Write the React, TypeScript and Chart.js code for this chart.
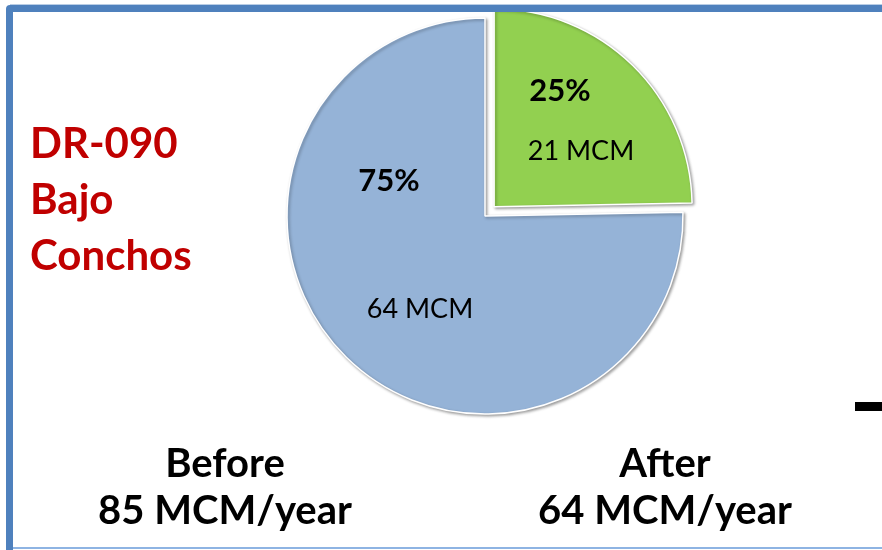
import React, { useEffect, useRef } from "react";
import { Chart, registerables } from "chart.js";

Chart.register(...registerables);

const categories = ["After (remaining)", "Before (reduction)"];
const sliceLabels = ["25%", "75%"];
const valueLabels = ["21 MCM", "64 MCM"];
const values = [21, 64];
const colors = ["#92D050", "#95B3D7"];
const titleLines = ["DR-090", "Bajo", "Conchos"];
const beforeLines = ["Before", "85 MCM/year"];
const afterLines = ["After", "64 MCM/year"];

const FONT = "Lato, 'Open Sans', sans-serif";

export default function App() {
  const ref = useRef<HTMLCanvasElement | null>(null);

  useEffect(() => {
    if (!ref.current) return;

    const shadowPlugin = {
      id: "shadowPlugin",
      beforeDatasetsDraw(chart: any) {
        const ctx = chart.ctx;
        ctx.save();
        ctx.shadowColor = "rgba(0,0,0,0.35)";
        ctx.shadowBlur = 3;
        ctx.shadowOffsetX = 1.5;
        ctx.shadowOffsetY = 1.5;
      },
      afterDatasetsDraw(chart: any) {
        chart.ctx.restore();
      },
    };

    const decorPlugin = {
      id: "decorPlugin",
      beforeDraw(chart: any) {
        const ctx = chart.ctx;
        ctx.save();
        ctx.fillStyle = "#ffffff";
        ctx.fillRect(0, 0, chart.width, chart.height);
        ctx.restore();
      },
      afterDraw(chart: any) {
        const ctx = chart.ctx;
        ctx.save();
        // frame
        ctx.fillStyle = "#4F81BD";
        ctx.beginPath();
        ctx.moveTo(6, 550);
        ctx.lineTo(6, 9);
        ctx.quadraticCurveTo(6, 5, 10, 5);
        ctx.lineTo(882, 5);
        ctx.lineTo(882, 12);
        ctx.lineTo(13, 12);
        ctx.lineTo(13, 550);
        ctx.closePath();
        ctx.fill();
        ctx.fillStyle = "#B9CDE5";
        ctx.fillRect(10, 4, 872, 1);
        ctx.fillStyle = "#8EB4E3";
        ctx.fillRect(13, 547, 869, 2);
        // black dash
        ctx.fillStyle = "#000000";
        ctx.fillRect(855, 402, 27, 9);

        ctx.textBaseline = "alphabetic";
        // title
        ctx.fillStyle = "#C00000";
        ctx.textAlign = "left";
        ctx.font = `bold 42px ${FONT}`;
        const titleY = [158, 214, 270];
        titleLines.forEach((t, i) => ctx.fillText(t, 30, titleY[i]));

        // before / after
        ctx.fillStyle = "#000000";
        ctx.textAlign = "center";
        ctx.font = `bold 40px ${FONT}`;
        ctx.fillText(beforeLines[0], 225, 477);
        ctx.fillText(beforeLines[1], 225, 524);
        ctx.fillText(afterLines[0], 665, 477);
        ctx.fillText(afterLines[1], 665, 524);

        // slice labels
        const meta = chart.getDatasetMeta(0);
        const pos = [
          { pct: [560, 101], val: [581, 160] },
          { pct: [389, 191], val: [420, 318] },
        ];
        meta.data.forEach((_: any, i: number) => {
          ctx.font = `bold 31px ${FONT}`;
          ctx.fillText(sliceLabels[i], pos[i].pct[0], pos[i].pct[1]);
          ctx.font = `27px ${FONT}`;
          ctx.fillText(valueLabels[i], pos[i].val[0], pos[i].val[1]);
        });
        ctx.restore();
      },
    };

    const chart = new Chart(ref.current, {
      type: "pie",
      data: {
        labels: categories,
        datasets: [
          {
            data: values,
            backgroundColor: colors,
            borderColor: "#ffffff",
            borderWidth: 1.5,
            offset: [52, 0],
          },
        ],
      },
      options: {
        responsive: false,
        animation: false,
        radius: 198,
        layout: { padding: { left: 88, right: 0, top: 0, bottom: 118 } },
        plugins: {
          legend: { display: false },
          tooltip: { enabled: false },
          title: { display: false },
        },
      } as any,
      plugins: [shadowPlugin, decorPlugin],
    });
    return () => chart.destroy();
  }, []);

  return (
    <div
      style={{
        position: "fixed",
        left: 0,
        top: 0,
        width: 882,
        height: 550,
        background: "#fff",
      }}
    >
      <canvas ref={ref} width={882} height={550} style={{ display: "block" }} />
    </div>
  );
}
